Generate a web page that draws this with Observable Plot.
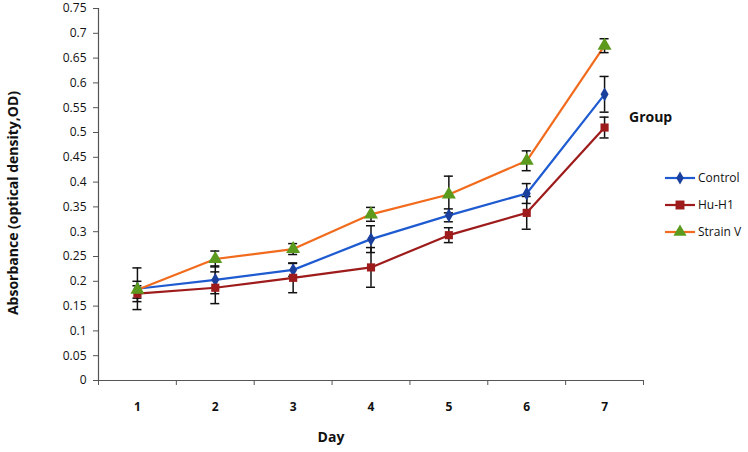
<!DOCTYPE html>
<html>
<head>
<meta charset="utf-8">
<script src="https://cdn.jsdelivr.net/npm/d3@7"></script>
<script src="https://cdn.jsdelivr.net/npm/@observablehq/plot@0.6"></script>
<style>
  html, body { margin: 0; padding: 0; background: #fff; }
  #chart { position: relative; width: 748px; height: 452px; }
</style>
</head>
<body>
<div id="chart"></div>
<script>
const days = [1, 2, 3, 4, 5, 6, 7];
const groups = ["Control", "Hu-H1", "Strain V"];
const controlMean = [0.185, 0.203, 0.223, 0.285, 0.333, 0.377, 0.577];
const controlErr  = [0.042, 0.028, 0.013, 0.027, 0.013, 0.020, 0.036];
const huH1Mean    = [0.175, 0.187, 0.207, 0.228, 0.293, 0.338, 0.510];
const huH1Err     = [0.016, 0.032, 0.030, 0.040, 0.015, 0.033, 0.021];
const strainMean  = [0.183, 0.245, 0.265, 0.335, 0.375, 0.443, 0.675];
const strainErr   = [0.017, 0.016, 0.011, 0.014, 0.037, 0.020, 0.014];
const yTicks = [0, 0.05, 0.1, 0.15, 0.2, 0.25, 0.3, 0.35, 0.4, 0.45, 0.5, 0.55, 0.6, 0.65, 0.7, 0.75];
const xBoundaries = [0.5, 1.5, 2.5, 3.5, 4.5, 5.5, 6.5, 7.5];

const lineColors = {"Control": "#1f5bd0", "Hu-H1": "#9e1b1b", "Strain V": "#f26b1d"};
const markColors = {"Control": "#1b3f9c", "Hu-H1": "#9e1b1b", "Strain V": "#5b9a1c"};
const symbols = {"Control": "diamond", "Hu-H1": "square", "Strain V": "triangle"};
const sizes = {"Control": 4.2, "Hu-H1": 4.6, "Strain V": 5.2};

const means = {"Control": controlMean, "Hu-H1": huH1Mean, "Strain V": strainMean};
const errs = {"Control": controlErr, "Hu-H1": huH1Err, "Strain V": strainErr};
const rows = [];
for (const g of groups) {
  days.forEach((d, i) => rows.push({group: g, day: d, value: means[g][i], err: errs[g][i]}));
}

const font = "'Open Sans', 'Noto Sans', sans-serif";
const capHalf = 0.058; // half-width of error bar caps, in day units

const marks = [];
marks.push(Plot.ruleX(rows, {x: "day", y1: d => d.value - d.err, y2: d => d.value + d.err, stroke: "#111", strokeWidth: 1.5}));
for (const g of groups) {
  const data = rows.filter(r => r.group === g);
  marks.push(Plot.lineY(data, {x: "day", y: "value", stroke: lineColors[g], strokeWidth: 2.2}));
}
marks.push(Plot.ruleY(rows, {y: d => d.value + d.err, x1: d => d.day - capHalf, x2: d => d.day + capHalf, stroke: "#111", strokeWidth: 1.5}));
marks.push(Plot.ruleY(rows, {y: d => d.value - d.err, x1: d => d.day - capHalf, x2: d => d.day + capHalf, stroke: "#111", strokeWidth: 1.5}));
for (const g of groups) {
  const data = rows.filter(r => r.group === g);
  marks.push(Plot.dot(data, {x: "day", y: "value", symbol: () => symbols[g], fill: markColors[g], stroke: "none", r: sizes[g]}));
}

const plot = Plot.plot({
  width: 748,
  height: 452,
  marginLeft: 98,
  marginRight: 105,
  marginTop: 8,
  marginBottom: 72,
  style: {fontFamily: font, fontSize: "12px", color: "#111", background: "#fff"},
  symbol: {type: "identity"},
  x: {type: "linear", domain: [0.5, 7.5], axis: null},
  y: {domain: [0, 0.75], axis: null},
  marks: [
    Plot.ruleY([0], {stroke: "#555", strokeWidth: 1.2}),
    Plot.ruleX([0.5], {stroke: "#555", strokeWidth: 1.2}),
    ...marks,
    Plot.axisY({ticks: yTicks, tickSize: 5, tickPadding: 7, stroke: "#555", tickFormat: d => String(d), fontSize: 12, label: null}),
    Plot.axisX({ticks: xBoundaries, tickSize: 5, tickFormat: () => "", stroke: "#555", label: null}),
    Plot.axisX({ticks: days, tickSize: 0, tickPadding: 22, tickFormat: d => String(d), fontSize: 12, fontWeight: "bold", label: null})
  ]
});

document.getElementById("chart").appendChild(plot);

const svg = d3.select(plot);
svg.append("text")
  .attr("transform", "translate(18,203) rotate(-90)")
  .attr("text-anchor", "middle")
  .attr("font-family", font).attr("font-size", 14).attr("font-weight", "bold")
  .attr("fill", "#111")
  .text("Absorbance (optical density,OD)");
svg.append("text")
  .attr("x", 331).attr("y", 442)
  .attr("text-anchor", "middle")
  .attr("font-family", font).attr("font-size", 14).attr("font-weight", "bold")
  .attr("fill", "#111")
  .text("Day");

svg.append("text")
  .attr("x", 629).attr("y", 122)
  .attr("text-anchor", "start")
  .attr("font-family", font).attr("font-size", 14).attr("font-weight", "bold")
  .attr("fill", "#111")
  .text("Group");
const legendY = [178, 205, 232];
const symGen = {"Control": d3.symbolDiamond, "Hu-H1": d3.symbolSquare, "Strain V": d3.symbolTriangle};
const symArea = {"Control": 50, "Hu-H1": 80, "Strain V": 75};
groups.forEach((g, i) => {
  const y = legendY[i];
  const gg = svg.append("g");
  gg.append("line").attr("x1", 665).attr("x2", 695).attr("y1", y).attr("y2", y)
    .attr("stroke", lineColors[g]).attr("stroke-width", 2.2);
  gg.append("path").attr("transform", `translate(680,${y})`)
    .attr("d", d3.symbol(symGen[g], symArea[g])())
    .attr("fill", markColors[g]);
  gg.append("text").attr("x", 698).attr("y", y).attr("dy", "0.35em")
    .attr("text-anchor", "start")
    .attr("font-family", font).attr("font-size", 12).attr("fill", "#111")
    .text(g);
});
</script>
</body>
</html>
